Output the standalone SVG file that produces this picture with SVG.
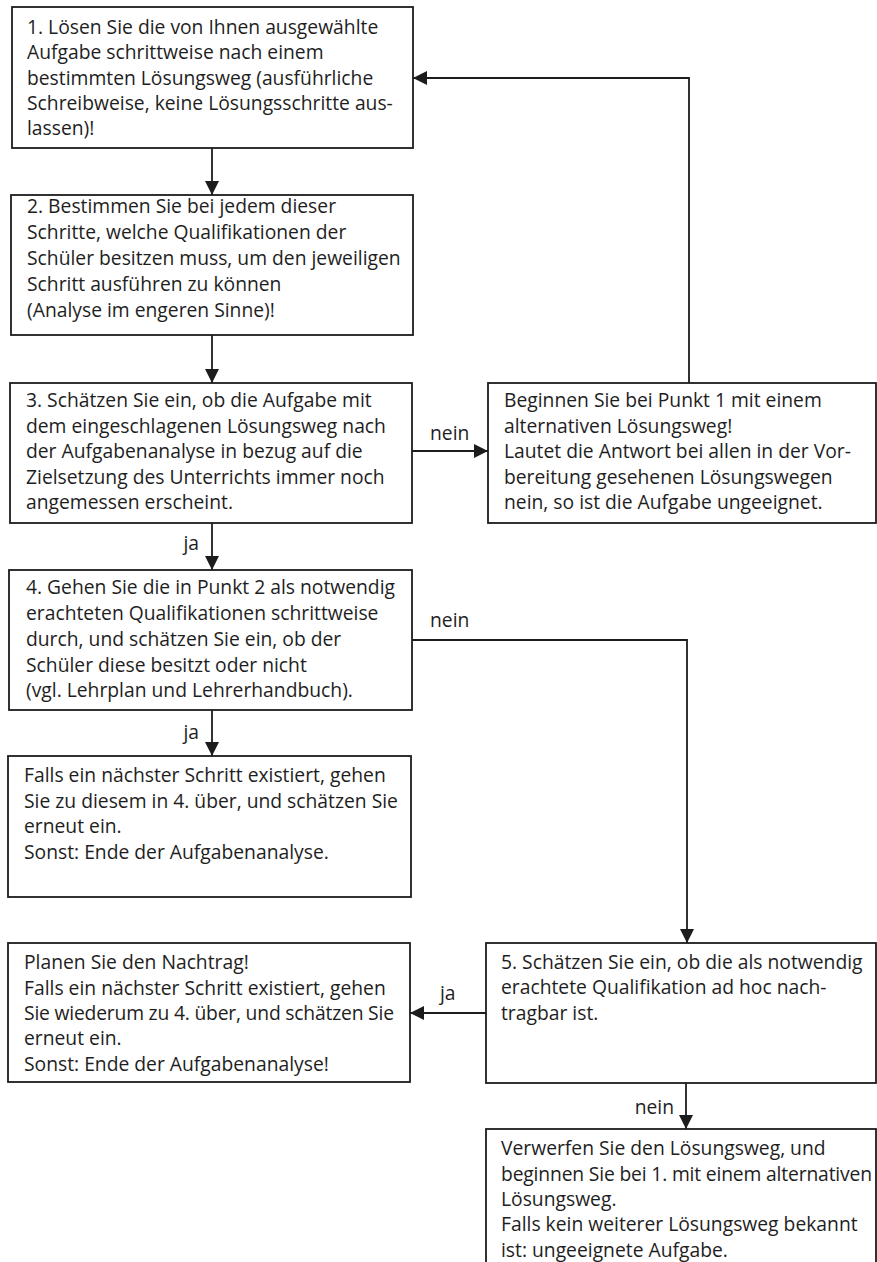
<svg xmlns="http://www.w3.org/2000/svg" width="877" height="1262" viewBox="0 0 877 1262">
<style>
.box{fill:#fff;stroke:#1c1c1c;stroke-width:1.8}
.t{font-family:"Open Sans","Noto Sans",sans-serif;font-size:19.3px;fill:#1e1e1e}
.lbl{font-family:"Open Sans","Noto Sans",sans-serif;font-size:19.3px;fill:#1e1e1e}
.c{fill:none;stroke:#1c1c1c;stroke-width:1.8}
</style>
<defs>
<marker id="ah" markerUnits="userSpaceOnUse" markerWidth="14" markerHeight="14" refX="14" refY="7" orient="auto">
<path d="M0,0 L14,7 L0,14 z" fill="#1c1c1c"/>
</marker>
</defs>
<rect width="877" height="1262" fill="#fff"/>
<g id="connectors">
<path class="c" d="M212,148 V195" marker-end="url(#ah)"/>
<path class="c" d="M689,383 V78 H413" marker-end="url(#ah)"/>
<path class="c" d="M212,335 V383" marker-end="url(#ah)"/>
<path class="c" d="M412,451 H488" marker-end="url(#ah)"/>
<text class="lbl" x="430" y="440">nein</text>
<path class="c" d="M212,523 V570" marker-end="url(#ah)"/>
<text class="lbl" x="199" y="550" text-anchor="end">ja</text>
<path class="c" d="M212,710 V756" marker-end="url(#ah)"/>
<text class="lbl" x="199" y="739" text-anchor="end">ja</text>
<path class="c" d="M412,640 H687 V943" marker-end="url(#ah)"/>
<text class="lbl" x="430" y="627">nein</text>
<path class="c" d="M486,1013 H410" marker-end="url(#ah)"/>
<text class="lbl" x="440" y="1000">ja</text>
<path class="c" d="M686,1083 V1129" marker-end="url(#ah)"/>
<text class="lbl" x="674" y="1114" text-anchor="end">nein</text>
</g>
<g id="node1">
<rect class="box" x="12" y="7" width="401" height="141"/>
<text class="t" x="27" y="34">1. Lösen Sie die von Ihnen ausgewählte</text>
<text class="t" x="27" y="59">Aufgabe schrittweise nach einem</text>
<text class="t" x="27" y="85">bestimmten Lösungsweg (ausführliche</text>
<text class="t" x="27" y="110">Schreibweise, keine Lösungsschritte aus-</text>
<text class="t" x="27" y="135">lassen)!</text>
</g>
<g id="node2">
<rect class="box" x="11" y="195" width="402" height="140"/>
<text class="t" x="27" y="213">2. Bestimmen Sie bei jedem dieser</text>
<text class="t" x="27" y="239">Schritte, welche Qualifikationen der</text>
<text class="t" x="27" y="265">Schüler besitzen muss, um den jeweiligen</text>
<text class="t" x="27" y="291">Schritt ausführen zu können</text>
<text class="t" x="27" y="317">(Analyse im engeren Sinne)!</text>
</g>
<g id="node3">
<rect class="box" x="10" y="383" width="402" height="140"/>
<text class="t" x="26" y="407">3. Schätzen Sie ein, ob die Aufgabe mit</text>
<text class="t" x="26" y="432.5">dem eingeschlagenen Lösungsweg nach</text>
<text class="t" x="26" y="458">der Aufgabenanalyse in bezug auf die</text>
<text class="t" x="26" y="483.5">Zielsetzung des Unterrichts immer noch</text>
<text class="t" x="26" y="509">angemessen erscheint.</text>
</g>
<g id="nodeR">
<rect class="box" x="488" y="383" width="388" height="140"/>
<text class="t" x="504" y="407">Beginnen Sie bei Punkt 1 mit einem</text>
<text class="t" x="504" y="432.5">alternativen Lösungsweg!</text>
<text class="t" x="504" y="458">Lautet die Antwort bei allen in der Vor-</text>
<text class="t" x="504" y="483.5">bereitung gesehenen Lösungswegen</text>
<text class="t" x="504" y="509">nein, so ist die Aufgabe ungeeignet.</text>
</g>
<g id="node4">
<rect class="box" x="9" y="570" width="403" height="140"/>
<text class="t" x="26" y="594">4. Gehen Sie die in Punkt 2 als notwendig</text>
<text class="t" x="26" y="620">erachteten Qualifikationen schrittweise</text>
<text class="t" x="26" y="646">durch, und schätzen Sie ein, ob der</text>
<text class="t" x="26" y="671.5">Schüler diese besitzt oder nicht</text>
<text class="t" x="26" y="697">(vgl. Lehrplan und Lehrerhandbuch).</text>
</g>
<g id="node6">
<rect class="box" x="8" y="756" width="403" height="141"/>
<text class="t" x="24" y="782">Falls ein nächster Schritt existiert, gehen</text>
<text class="t" x="24" y="807.5">Sie zu diesem in 4. über, und schätzen Sie</text>
<text class="t" x="24" y="833">erneut ein.</text>
<text class="t" x="24" y="858.5">Sonst: Ende der Aufgabenanalyse.</text>
</g>
<g id="node7">
<rect class="box" x="8" y="943" width="402" height="139"/>
<text class="t" x="24" y="969">Planen Sie den Nachtrag!</text>
<text class="t" x="24" y="994.5">Falls ein nächster Schritt existiert, gehen</text>
<text class="t" x="24" y="1020" textLength="370" lengthAdjust="spacing">Sie wiederum zu 4. über, und schätzen Sie</text>
<text class="t" x="24" y="1045">erneut ein.</text>
<text class="t" x="24" y="1070.5">Sonst: Ende der Aufgabenanalyse!</text>
</g>
<g id="node5">
<rect class="box" x="486" y="943" width="390" height="140"/>
<text class="t" x="501" y="968.5">5. Schätzen Sie ein, ob die als notwendig</text>
<text class="t" x="501" y="994">erachtete Qualifikation ad hoc nach-</text>
<text class="t" x="501" y="1019.5">tragbar ist.</text>
</g>
<g id="node8">
<rect class="box" x="486" y="1129" width="390" height="160"/>
<text class="t" x="501" y="1155">Verwerfen Sie den Lösungsweg, und</text>
<text class="t" x="501" y="1180.5" textLength="371" lengthAdjust="spacing">beginnen Sie bei 1. mit einem alternativen</text>
<text class="t" x="501" y="1206">Lösungsweg.</text>
<text class="t" x="501" y="1231">Falls kein weiterer Lösungsweg bekannt</text>
<text class="t" x="501" y="1256.5">ist: ungeeignete Aufgabe.</text>
</g>
</svg>
